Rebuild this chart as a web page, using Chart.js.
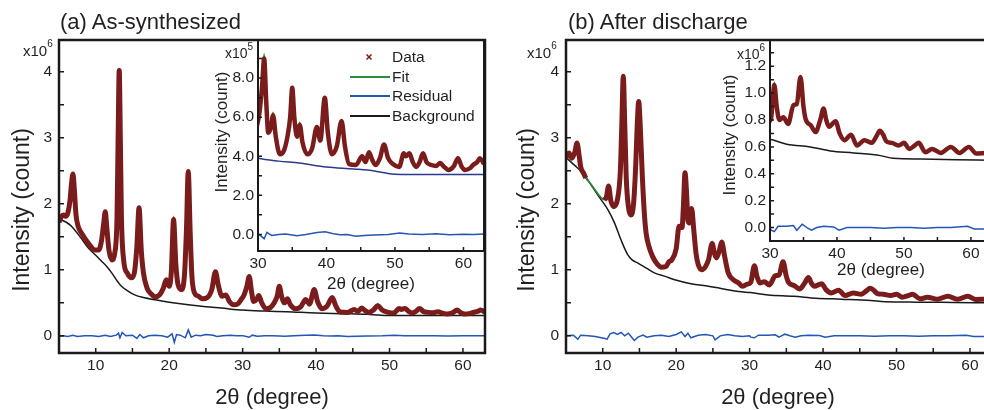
<!DOCTYPE html>
<html><head><meta charset="utf-8">
<script src="https://cdn.jsdelivr.net/npm/chart.js@4.4.1/dist/chart.umd.min.js"></script>
<style>
html,body{margin:0;padding:0;width:984px;height:410px;overflow:hidden;background:#fff;font-family:"Liberation Sans",Arial,sans-serif;color:#231f20}
body{position:relative}
canvas{position:absolute;top:0}
.t{position:absolute;white-space:nowrap;line-height:1;transform:translateY(-50%)}
.c{position:absolute;white-space:nowrap;line-height:1;transform:translate(-50%,-50%)}
.r{position:absolute;white-space:nowrap;line-height:1;transform:translate(-50%,-50%) rotate(-90deg)}
.m sup{font-size:10px;vertical-align:top;position:relative;top:-4px}
.ln{position:absolute;height:2px;width:40px}
</style>
</head><body>
<canvas id="mainA" width="500" height="410" style="left:0px"></canvas>
<canvas id="insetA" width="300" height="300" style="left:200px"></canvas>
<canvas id="mainB" width="500" height="410" style="left:507px"></canvas>
<canvas id="insetB" width="300" height="300" style="left:710px"></canvas>

<div class="t" style="left:60px;top:22px;font-size:22px">(a) As-synthesized</div>
<div class="t" style="left:568px;top:22px;font-size:22px">(b) After discharge</div>

<div class="c" style="left:272px;top:397px;font-size:22px">2θ (degree)</div>
<div class="c" style="left:778px;top:397px;font-size:22px">2θ (degree)</div>
<div class="r" style="left:21px;top:210px;font-size:23px">Intensity (count)</div>
<div class="r" style="left:526px;top:210px;font-size:23px">Intensity (count)</div>

<div class="c" style="left:371px;top:283px;font-size:17px">2θ (degree)</div>
<div class="c" style="left:881px;top:269px;font-size:17px">2θ (degree)</div>
<div class="r" style="left:221px;top:132px;font-size:17px">Intensity (count)</div>
<div class="r" style="left:729px;top:135px;font-size:17px">Intensity (count)</div>

<div class="t m" style="left:23px;top:50px;font-size:15px">x10<sup>6</sup></div>
<div class="t m" style="left:527px;top:52px;font-size:15px">x10<sup>6</sup></div>
<div class="t m" style="left:225px;top:53px;font-size:14px">x10<sup>5</sup></div>
<div class="t m" style="left:737px;top:54px;font-size:14px">x10<sup>6</sup></div>

<svg style="position:absolute;left:366px;top:54px" width="6" height="6"><path d="M0.5 0.5L5.5 5.5M5.5 0.5L0.5 5.5" stroke="#7b1c1c" stroke-width="1.5"/></svg>
<div class="ln" style="left:350px;top:76px;background:#2e8b3e"></div>
<div class="ln" style="left:350px;top:95px;background:#2356b5"></div>
<div class="ln" style="left:350px;top:115px;background:#1a1a1a"></div>
<div class="t" style="left:392px;top:57px;font-size:15.5px">Data</div>
<div class="t" style="left:392px;top:77px;font-size:15.5px">Fit</div>
<div class="t" style="left:392px;top:96px;font-size:15.5px">Residual</div>
<div class="t" style="left:392px;top:116px;font-size:15.5px">Background</div>

<script>
// ---------- Panel (a) As-synthesized : intensity in units of 10^6 counts ----------
const xA = [5.0,5.3,5.6,5.9,6.2,6.5,6.7,6.9,7.1,7.3,7.6,8.1,9.0,9.9,10.4,10.8,11.1,11.3,11.5,11.8,12.2,12.6,12.9,13.05,13.2,13.35,13.5,13.8,14.3,14.9,15.3,15.6,15.9,16.2,16.5,17.0,17.5,18.1,18.7,19.2,19.6,20.0,20.3,20.6,20.9,21.2,21.7,22.1,22.35,22.6,22.85,23.1,23.5,24.0,24.5,25.2,25.8,26.3,26.7,27.2,27.7,28.2,28.8,29.3,29.8,30.2,30.6,30.9,31.2,31.5,31.9,32.2,32.6,33.2,33.8,34.3,34.7,35.0,35.3,35.7,36.1,36.5,37.2,37.9,38.6,39.1,39.75,40.2,40.8,41.5,42.2,42.7,43.3,44.3,45.2,45.7,46.2,46.7,47.2,47.8,48.4,49.0,49.7,50.6,51.3,51.6,52.1,52.6,53.1,53.6,54.1,54.6,55.3,56.0,56.6,57.2,57.8,58.6,59.2,59.7,60.2,61.0,61.4,62.0,62.4,63.0];
const dataA = [1.72,1.80,1.83,1.81,1.86,2.05,2.30,2.45,2.20,1.85,1.66,1.55,1.40,1.30,1.30,1.45,1.72,1.88,1.65,1.30,1.15,1.26,1.80,3.00,4.02,3.00,1.80,1.15,0.95,0.88,0.98,1.35,1.94,1.30,0.95,0.72,0.64,0.59,0.62,0.72,0.85,0.75,0.98,1.76,1.10,0.78,0.70,0.95,1.60,2.49,1.60,0.90,0.64,0.60,0.56,0.58,0.70,0.97,0.76,0.60,0.62,0.52,0.47,0.48,0.55,0.62,0.76,0.90,0.68,0.52,0.55,0.61,0.50,0.41,0.43,0.50,0.60,0.75,0.60,0.50,0.56,0.47,0.41,0.44,0.55,0.48,0.70,0.52,0.41,0.45,0.58,0.45,0.36,0.355,0.40,0.37,0.42,0.38,0.355,0.39,0.46,0.39,0.36,0.345,0.415,0.40,0.415,0.37,0.345,0.37,0.415,0.37,0.355,0.35,0.365,0.345,0.33,0.35,0.39,0.35,0.33,0.34,0.355,0.37,0.39,0.36];
const fitTipsA = [[13.2,4.05],[20.6,1.81],[22.6,2.52],[30.9,0.925],[32.2,0.625],[36.1,0.575]];
const bgXA = [5,6,6.7,8,9,10,10.8,11.5,12.2,13,13.5,14.5,15.3,16.5,18.1,20,22.6,25,27.1,30,33,36,40,44,47,48.5,50,55,63];
const bgA  = [1.77,1.72,1.66,1.48,1.33,1.22,1.13,1.05,0.95,0.82,0.75,0.67,0.62,0.58,0.545,0.51,0.47,0.44,0.42,0.39,0.375,0.365,0.345,0.335,0.325,0.315,0.308,0.306,0.307];
const resXA = [5,5.6,6.2,6.9,7.5,8.5,9.5,10.4,11.3,12,12.8,13.1,13.3,13.6,14.1,15,15.6,16,16.5,17.2,18,19,19.8,20.4,20.7,21,21.5,22.2,22.6,23,23.6,24.3,25,26,26.5,27.3,28.3,29.2,30,30.5,30.9,31.3,32,33,34,35,35.7,37,38.6,39.8,41,42,43,44.3,45.5,47,49,50.7,52,54,56,58,60,61.5,63];
const resA  = [-0.01,0,-0.01,0.01,-0.01,0,0,-0.01,0.01,-0.01,0.01,0.04,-0.03,0.05,0,0.01,-0.04,0.02,-0.03,0,0.01,0,-0.02,0.03,-0.1,0.02,0.01,-0.03,0.09,-0.02,0.01,0,0.02,0.01,-0.01,0,0.01,0,0.003,-0.01,-0.022,0.01,-0.005,0,0.002,-0.003,-0.007,0,0.01,0.013,0.003,-0.002,0,-0.01,-0.006,-0.003,0,0.007,0.002,0,0.003,-0.002,0.001,0,0.002];

// ---------- Panel (b) After discharge : intensity in units of 10^6 counts ----------
const xB = [5.0,5.4,5.8,6.2,6.5,6.8,7.0,7.4,7.7,8.3,8.9,9.5,10.2,10.5,10.8,11.1,11.5,12.0,12.4,12.6,12.8,13.0,13.2,13.5,13.8,14.2,14.5,14.7,14.9,15.1,15.4,15.7,15.9,16.3,16.8,17.4,18.0,18.6,19.0,19.4,20.0,20.4,20.8,21.0,21.2,21.4,21.6,21.8,22.1,22.4,22.7,23.0,23.5,24.0,24.4,24.9,25.2,25.5,25.9,26.2,26.6,27.1,27.8,28.5,29.0,29.6,30.15,30.65,31.0,31.4,32.0,32.7,33.5,34.0,34.55,35.0,35.3,36.1,36.8,37.5,38.0,38.4,38.8,39.8,40.4,41.1,42.1,43.0,44.1,45.2,45.9,46.4,46.9,47.4,48.2,49.2,50.0,50.8,51.6,52.2,53.2,54.2,55.5,57.0,58.3,59.7,60.8,62.4,63.0];
const dataB = [2.70,2.77,2.69,2.78,2.92,2.72,2.56,2.46,2.39,null,null,null,2.06,2.10,2.27,2.05,1.96,2.06,2.50,3.20,3.93,3.20,2.40,1.95,1.83,2.00,2.60,3.20,3.55,3.20,2.40,1.80,1.56,1.35,1.20,1.09,1.04,1.05,1.12,1.15,1.32,1.66,1.64,2.00,2.47,2.20,1.75,1.71,1.93,1.60,1.25,1.08,1.00,1.05,1.15,1.40,1.25,1.18,1.30,1.42,1.20,0.95,0.85,0.80,0.75,0.78,0.81,1.06,0.90,0.80,0.82,0.77,0.91,0.92,1.12,0.90,0.81,0.76,0.71,0.80,0.885,0.80,0.75,0.79,0.70,0.65,0.69,0.61,0.65,0.63,0.68,0.72,0.69,0.64,0.63,0.61,0.63,0.585,0.61,0.63,0.56,0.585,0.555,0.60,0.555,0.60,0.55,0.555,0.55];
const fitTipsB = [[8.3,2.31],[8.9,2.22],[9.5,2.13],[11.5,1.93],[24.9,1.43],[30.65,1.08],[31.4,0.79],[38.0,0.89]];
const bgXB = [5,5.8,6.5,7.5,8.5,9.8,10.7,11.6,12.5,13.4,14.0,14.8,16,17.1,18.5,19.8,22,24.4,26.5,28.5,30.15,32.5,36,39,42.5,46.5,48.4,52.7,57.8,63];
const bgB  = [2.70,2.62,2.55,2.44,2.27,2.06,1.91,1.71,1.45,1.23,1.15,1.10,1.02,0.95,0.90,0.85,0.79,0.75,0.71,0.67,0.655,0.62,0.60,0.57,0.555,0.535,0.515,0.51,0.505,0.50];
const resXB = [5,6,6.6,7,8,9,10.3,10.6,11,11.5,12,12.5,13,13.5,14.3,14.8,15.5,16,17,18,19,20,20.7,21.2,21.6,22,23,24,25,25.3,26,27,28,29,30,30.15,30.65,31.2,32.5,33.5,34.0,34.8,35.5,36.2,37,38,39.5,40.3,41.5,43,45,47,49,51,53,55,57,59.5,60.5,62,63];
const resB  = [0,0.01,-0.05,0.01,0,-0.01,-0.04,-0.05,0.03,0.05,0.02,0.05,0,0.04,-0.07,-0.02,0.01,-0.02,0,0.01,-0.01,0.02,0.06,-0.01,0.04,-0.03,0.01,0.02,0,-0.06,0,0.02,0,-0.01,0,-0.02,-0.03,0.01,0.01,0.015,-0.02,0.025,0,-0.02,0,0.01,0.005,-0.02,0,0,0,-0.005,0,0,-0.005,0,0,0.01,-0.01,-0.01,-0.01];

// ---------- tick labels ----------
const mainXLabels = [10,20,30,40,50,60];
const mainYLabels = [0,1,2,3,4];
const insetXLabels = [30,40,50,60];
const insetAYLabels = [0,2,4,6,8];
const insetBYLabels = [0,0.2,0.4,0.6,0.8,1.0,1.2];

const C_DATA = '#7b1c1c', C_FIT = '#2e8b3e', C_RES = '#2356b5', C_BG = '#1a1a1a', C_BG_NAVY = '#2b3a8f', C_TXT = '#231f20';
const FONT = '"Liberation Sans", Arial, sans-serif';

function pts(xs, ys, k) {
  return xs.map((x, i) => ({x: x, y: ys[i] == null ? null : ys[i] * k}));
}
function withTips(ys, xs, tips) {
  return xs.map((x, i) => { const t = tips.find(p => p[0] === x); return t ? t[1] : ys[i]; });
}
const fitA = withTips(dataA, xA, fitTipsA);
const fitB = withTips(dataB, xB, fitTipsB);

function labeler(list, digits) {
  return function (v) {
    const hit = list.find(l => Math.abs(l - v) < 1e-6);
    return hit === undefined ? '' : (digits ? hit.toFixed(digits) : String(hit));
  };
}

const framePlugin = {
  id: 'frame',
  afterDraw(chart, args, opts) {
    const ctx = chart.ctx, ca = chart.chartArea;
    ctx.save();
    ctx.strokeStyle = '#1a1a1a';
    ctx.lineWidth = opts.tickWidth;
    ctx.beginPath();
    chart.scales.x.ticks.forEach(t => {
      const p = chart.scales.x.getPixelForValue(t.value);
      ctx.moveTo(p, ca.bottom); ctx.lineTo(p, ca.bottom - opts.tick);
    });
    chart.scales.y.ticks.forEach(t => {
      const p = chart.scales.y.getPixelForValue(t.value);
      ctx.moveTo(ca.left, p); ctx.lineTo(ca.left + opts.tick, p);
    });
    ctx.stroke();
    ctx.lineWidth = opts.lw;
    ctx.strokeRect(ca.left, ca.top, ca.right - ca.left, ca.bottom - ca.top);
    ctx.restore();
  }
};

function makeChart(id, c) {
  return new Chart(document.getElementById(id), {
    type: 'line',
    data: {datasets: [
      {label: 'Data', data: c.data, borderColor: C_DATA, borderWidth: c.dw, cubicInterpolationMode: 'monotone', spanGaps: false, order: 0},
      {label: 'Fit', data: c.fit, borderColor: C_FIT, borderWidth: 1.6, cubicInterpolationMode: 'monotone', order: 1},
      {label: 'Residual', data: c.res, borderColor: C_RES, borderWidth: 1.5, tension: 0, order: 2},
      {label: 'Background', data: c.bg, borderColor: c.bgColor, borderWidth: 1.5, cubicInterpolationMode: 'monotone', order: 3}
    ]},
    options: {
      responsive: false, animation: false, devicePixelRatio: 1, events: [],
      layout: {padding: c.pad},
      elements: {point: {radius: 0}},
      plugins: {legend: {display: false}, tooltip: {enabled: false}, frame: {lw: c.lw, tick: c.tick, tickWidth: 1.5}},
      scales: {
        x: {type: 'linear', min: c.xmin, max: c.xmax,
            border: {display: false}, grid: {display: false, drawTicks: false},
            ticks: {stepSize: c.xstep, includeBounds: false, autoSkip: false, maxRotation: 0, padding: 3,
                    color: C_TXT, font: {family: FONT, size: 15.5}, callback: labeler(c.xlabels, 0)},
            afterFit: s => { s.height = c.xH; }},
        y: {type: 'linear', min: c.ymin, max: c.ymax,
            border: {display: false}, grid: {display: false, drawTicks: false},
            ticks: {stepSize: c.ystep, includeBounds: false, autoSkip: false, padding: c.ypad,
                    color: C_TXT, font: {family: FONT, size: 15.5}, callback: labeler(c.ylabels, c.ydig)},
            afterFit: s => { s.width = 45; }}
      }
    },
    plugins: [framePlugin]
  });
}

const mainPad = {left: 14, right: 15, top: 40, bottom: 32};
makeChart('mainA', {
  data: pts(xA, dataA, 1), fit: pts(xA, fitA, 1), res: pts(resXA, resA, 1), bg: pts(bgXA, bgA, 1), bgColor: C_BG,
  pad: mainPad, xH: 25, dw: 5, lw: 2.5, tick: 5,
  xmin: 5, xmax: 63, xstep: 5, xlabels: mainXLabels,
  ymin: -0.26, ymax: 4.48, ystep: 0.5, ylabels: mainYLabels, ydig: 0, ypad: 7
});
makeChart('mainB', {
  data: pts(xB, dataB, 1), fit: pts(xB, fitB, 1), res: pts(resXB, resB, 1), bg: pts(bgXB, bgB, 1), bgColor: C_BG,
  pad: mainPad, xH: 25, dw: 5, lw: 2.5, tick: 5,
  xmin: 5, xmax: 63, xstep: 5, xlabels: mainXLabels,
  ymin: -0.26, ymax: 4.48, ystep: 0.5, ylabels: mainYLabels, ydig: 0, ypad: 7
});
// inset (a) shown in units of 10^5 counts
makeChart('insetA', {
  data: pts(xA, dataA, 10), fit: pts(xA, fitA, 10), res: pts(resXA, resA, 10), bg: pts(bgXA, bgA, 10), bgColor: C_BG_NAVY,
  pad: {left: 13, right: 16, top: 40, bottom: 27}, xH: 22, dw: 4.5, lw: 2, tick: 4,
  xmin: 30, xmax: 63, xstep: 5, xlabels: insetXLabels,
  ymin: -0.85, ymax: 9.95, ystep: 1, ylabels: insetAYLabels, ydig: 1, ypad: 4
});
// inset (b) shown in units of 10^6 counts
makeChart('insetB', {
  data: pts(xB, dataB, 1), fit: pts(xB, fitB, 1), res: pts(resXB, resB, 1), bg: pts(bgXB, bgB, 1), bgColor: C_BG,
  pad: {left: 15, right: 19, top: 40, bottom: 37}, xH: 22, dw: 4.5, lw: 2, tick: 4,
  xmin: 30, xmax: 63, xstep: 5, xlabels: insetXLabels,
  ymin: -0.1, ymax: 1.395, ystep: 0.1, ylabels: insetBYLabels, ydig: 1, ypad: 4
});
</script>
</body></html>
